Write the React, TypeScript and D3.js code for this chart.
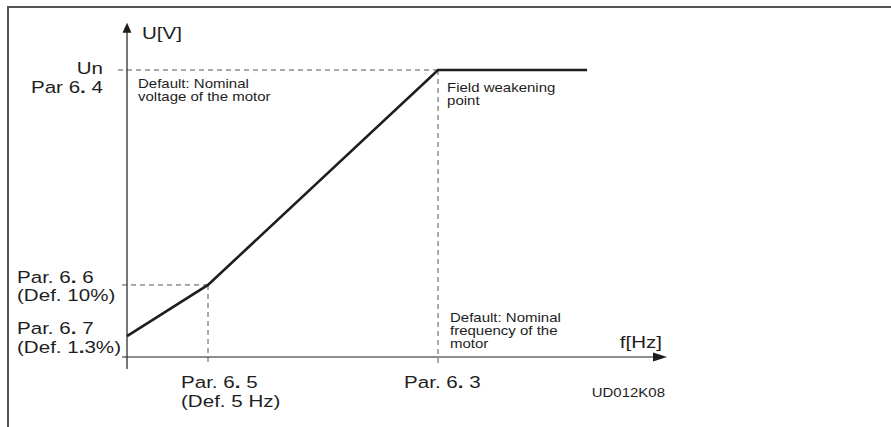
import React from "react";
import * as d3 from "d3";

// Schematic U/f curve (relative units, 0..100 on each axis)
const freqPoints = [0, 15, 57.6, 85.2];
const voltPoints = [7.3, 25.1, 100, 100];
const freqAxisMax = 100;
const voltAxisMax = 116.5;

const yLabelsLeft = [
  { lines: ["Un", "Par 6. 4"], value: 100, align: "end" },
  { lines: ["Par. 6. 6", "(Def. 10%)"], value: 25.1, align: "start" },
  { lines: ["Par. 6. 7", "(Def. 1.3%)"], value: 7.3, align: "start" },
];
const xLabels = [
  { lines: ["Par. 6. 5", "(Def. 5 Hz)"], value: 15 },
  { lines: ["Par. 6. 3"], value: 57.6 },
];
const voltNote = ["Default: Nominal", "voltage of the motor"];
const fwpNote = ["Field weakening", "point"];
const freqNote = ["Default: Nominal", "frequency of the", "motor"];
const axisTitles = { y: "U[V]", x: "f[Hz]" };
const figureId = "UD012K08";

const W = 891;
const H = 427;
const FONT = "'Liberation Sans', Arial, Helvetica, sans-serif";
const INK = "#1e1e1e";
const BIG = 17;
const BIG_SX = 1.21;
const SMALL = 12.3;
const SMALL_SX = 1.22;

// render "6." style dots in bold, as in the reference
function rich(s: string) {
  const parts = s.split(/(\d\.)/);
  return parts.map((p, i) =>
    /^\d\.$/.test(p) ? (
      <React.Fragment key={i}>
        {p[0]}
        <tspan fontWeight="bold">.</tspan>
      </React.Fragment>
    ) : (
      <React.Fragment key={i}>{p}</React.Fragment>
    )
  );
}

function T({
  x,
  y,
  size,
  sx,
  anchor = "start",
  children,
}: {
  x: number;
  y: number;
  size: number;
  sx: number;
  anchor?: string;
  children: React.ReactNode;
}) {
  return (
    <text
      transform={`translate(${x},${y}) scale(${sx},1)`}
      fontSize={size}
      fill={INK}
      textAnchor={anchor}
    >
      {children}
    </text>
  );
}

export default function App() {
  const x = d3.scaleLinear().domain([0, 100]).range([127, 667]);
  const y = d3.scaleLinear().domain([0, 100]).range([357, 70]);

  const pts: [number, number][] = freqPoints.map((f, i) => [f, voltPoints[i]]);
  const line = d3
    .line<[number, number]>()
    .x((d) => x(d[0]))
    .y((d) => y(d[1]));

  const x0 = x(0);
  const y0 = y(0);
  const yTop = y(voltAxisMax);
  const xEnd = x(freqAxisMax);
  const dash = "5 4";

  const kx = x(freqPoints[1]);
  const ky = y(voltPoints[1]);
  const fx = x(freqPoints[2]);
  const fy = y(voltPoints[2]);

  return (
    <svg
      width={W}
      height={H}
      style={{ position: "absolute", left: 0, top: 0, display: "block" }}
      fontFamily={FONT}
    >
      <rect x={0} y={0} width={W} height={H} fill="#fff" />
      {/* frame */}
      <line x1={8} y1={7} x2={W} y2={7} stroke="#555" strokeWidth={2} />
      <line x1={8} y1={6} x2={8} y2={H} stroke="#555" strokeWidth={2} />

      {/* dashed guides */}
      <g stroke="#555" strokeWidth={1} strokeDasharray={dash} fill="none">
        <line x1={118} y1={fy} x2={fx} y2={fy} />
        <line x1={fx} y1={fy} x2={fx} y2={y0 + 6} />
        <line x1={122} y1={ky} x2={kx} y2={ky} />
        <line x1={kx} y1={ky} x2={kx} y2={y0 + 9} />
      </g>

      {/* axes */}
      <g stroke={INK} strokeWidth={1.2}>
        <line x1={x0} y1={y0 + 12} x2={x0} y2={yTop + 8} />
        <line x1={122} y1={y0} x2={xEnd - 12} y2={y0} />
      </g>
      <path
        d={`M${x0},${yTop} L${x0 - 4.5},${yTop + 10} L${x0 + 4.5},${yTop + 10} Z`}
        fill={INK}
      />
      <path
        d={`M${xEnd},${y0} L${xEnd - 14},${y0 - 4.5} L${xEnd - 14},${y0 + 4.5} Z`}
        fill={INK}
      />

      {/* curve */}
      <path d={line(pts) || ""} fill="none" stroke={INK} strokeWidth={2.6} />

      {/* axis titles */}
      <T x={x0 + 15} y={39} size={BIG} sx={BIG_SX}>
        {axisTitles.y}
      </T>
      <T x={xEnd - 5} y={348} size={BIG} sx={BIG_SX} anchor="end">
        {axisTitles.x}
      </T>

      {/* y labels */}
      {yLabelsLeft.map((l, i) =>
        l.lines.map((s, j) => (
          <T
            key={`y${i}${j}`}
            x={l.align === "end" ? 103 : 17}
            y={y(l.value) + (l.align === "end" ? 4 + j * 19 : -2 + j * 18.5)}
            size={BIG}
            sx={BIG_SX}
            anchor={l.align}
          >
            {rich(s)}
          </T>
        ))
      )}

      {/* x labels */}
      {xLabels.map((l, i) =>
        l.lines.map((s, j) => (
          <T
            key={`x${i}${j}`}
            x={x(l.value) - (l.lines.length > 1 ? 27 : 34)}
            y={y0 + 31 + j * 19}
            size={BIG}
            sx={BIG_SX}
          >
            {rich(s)}
          </T>
        ))
      )}

      {/* notes */}
      {voltNote.map((s, j) => (
        <T key={`v${j}`} x={138} y={88 + j * 13} size={SMALL} sx={SMALL_SX}>
          {s}
        </T>
      ))}
      {fwpNote.map((s, j) => (
        <T key={`f${j}`} x={fx + 9} y={92 + j * 13} size={SMALL} sx={SMALL_SX}>
          {s}
        </T>
      ))}
      {freqNote.map((s, j) => (
        <T key={`n${j}`} x={fx + 12} y={322 + j * 13} size={SMALL} sx={SMALL_SX}>
          {s}
        </T>
      ))}
      <T x={xEnd - 2} y={397} size={SMALL} sx={SMALL_SX} anchor="end">
        {figureId}
      </T>
    </svg>
  );
}
